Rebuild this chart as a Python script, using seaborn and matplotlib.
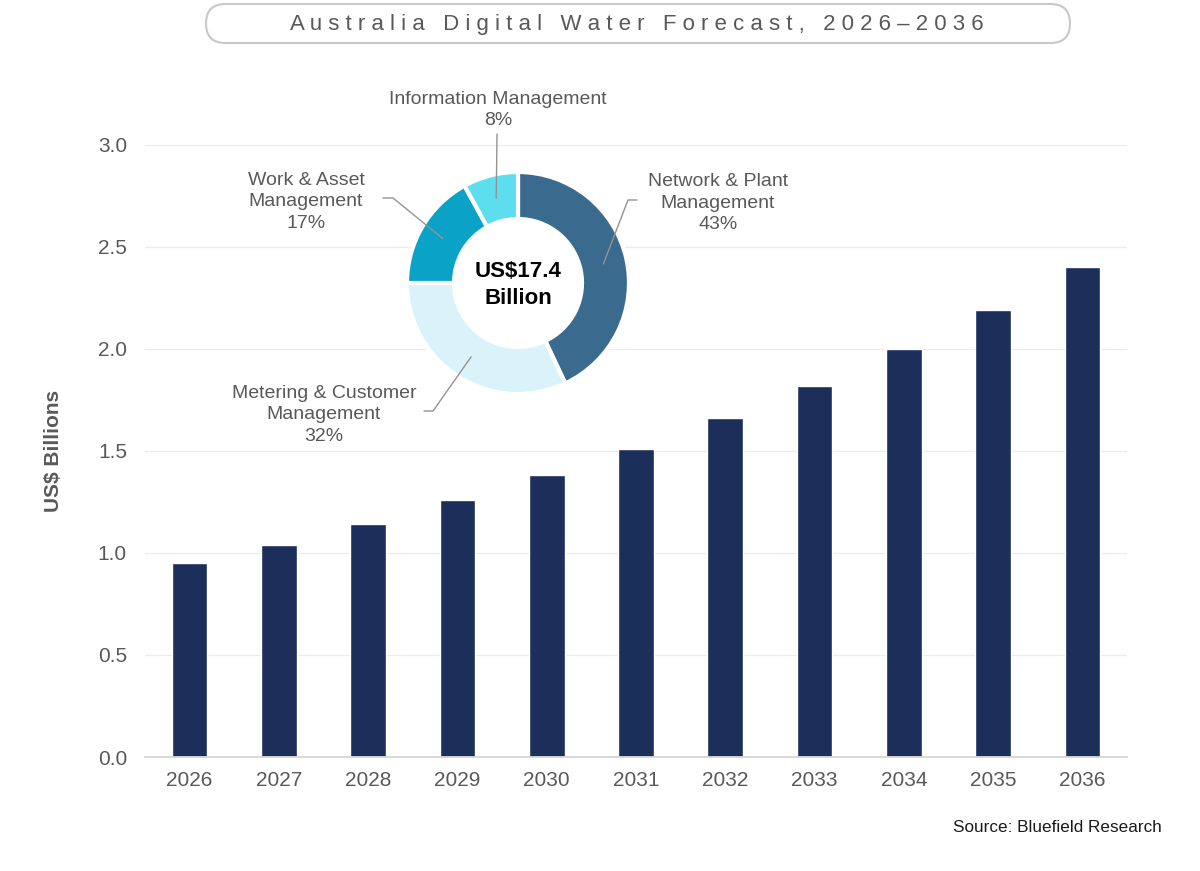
import numpy as np
import matplotlib.pyplot as plt
import pandas as pd
import seaborn as sns
from matplotlib.patches import FancyBboxPatch, Circle

# bar data (US$ billions)
years = ["2026", "2027", "2028", "2029", "2030", "2031", "2032", "2033", "2034", "2035", "2036"]
values = [0.95, 1.04, 1.14, 1.26, 1.38, 1.51, 1.66, 1.82, 2.00, 2.19, 2.40]

# donut data
segments = ["Network & Plant\nManagement", "Metering & Customer\nManagement",
            "Work & Asset\nManagement", "Information Management"]
shares = [43, 32, 17, 8]
seg_colors = ["#3B6A8F", "#DAF2F9", "#0BA2C7", "#5CDEEF"]
total_label = "US$17.4\nBillion"

title = "Australia Digital Water Forecast, 2026\u20132036"

sns.set_theme(style="white")
plt.rcParams["font.family"] = ["Liberation Sans", "DejaVu Sans"]

W, H = 1200, 871
GREY = "#595959"
fig = plt.figure(figsize=(W / 100, H / 100), dpi=100)

def py(y):
    # pixel row (from top) -> overlay y
    return H - y

# ---- bar chart
ax = fig.add_axes([145 / W, 1 - 757 / H, (1127 - 145) / W, (757 - 145) / H])
df = pd.DataFrame({"year": years, "value": values})
sns.barplot(data=df, x="year", y="value", color="#1C2F5B", width=0.4,
            saturation=1, ax=ax)
ax.set_ylim(0, 3.0)
ax.set_yticks(np.arange(0, 3.01, 0.5))
ax.set_yticklabels([f"{v:.1f}" for v in np.arange(0, 3.01, 0.5)])
ax.grid(axis="y", color="#EBEBEB", lw=0.9)
ax.set_axisbelow(True)
for s in ["left", "right", "top"]:
    ax.spines[s].set_visible(False)
ax.spines["bottom"].set_color("#D6D6D6")
ax.spines["bottom"].set_linewidth(1.3)
ax.tick_params(axis="both", length=0, labelsize=15, labelcolor=GREY)
ax.tick_params(axis="x", pad=10)
ax.tick_params(axis="y", pad=13)
ax.set_xlabel("")
ax.set_ylabel("US$ Billions", fontsize=15, fontweight="bold", color=GREY)
ax.yaxis.set_label_coords(-0.084, 0.5)

# ---- overlay in pixel coords: donut, labels, title, source
ov = fig.add_axes([0, 0, 1, 1], zorder=5)
ov.set_facecolor("none")
cx, cy, R, ring = 518, py(283), 111, 47
ov.add_patch(Circle((cx, cy), R - ring, color="white", zorder=1))
wedges, _ = ov.pie(shares, colors=seg_colors, startangle=90, counterclock=False,
                   center=(cx, cy), radius=R,
                   wedgeprops=dict(width=ring, edgecolor="white", linewidth=3))
ov.set_xlim(0, W)
ov.set_ylim(0, H)
ov.axis("off")

ov.text(cx, cy - 2, total_label, ha="center", va="center", fontsize=16,
        fontweight="bold", color="black", linespacing=1.4, zorder=6)

# label centres and leader line start/elbow (pixels from top-left)
label_pos = [(718, 203), (324, 415), (306, 202), (498, 110)]
leader = [((637, 200), (628, 200)), ((424, 411), (433, 411)),
          ((383, 198), (393, 198)), ((497, 134), (497, 134))]
r_mid = R - ring / 2
for w, name, pct, (tx, ty), ((x0, y0), (x1, y1)) in zip(wedges, segments, shares, label_pos, leader):
    ov.text(tx, py(ty), f"{name}\n{pct}%", ha="center", va="center", fontsize=14,
            color=GREY, linespacing=1.35)
    ang = np.deg2rad((w.theta1 + w.theta2) / 2)
    ex, ey = cx + r_mid * np.cos(ang), cy + r_mid * np.sin(ang)
    ov.plot([x0, x1, ex], [py(y0), py(y1), ey], color="#939393", lw=1, zorder=7)

# title pill
ov.add_patch(FancyBboxPatch((206, py(43)), 864, 39,
                            boxstyle="round,pad=0,rounding_size=19.5",
                            fc="white", ec="#C8C8C8", lw=1.5))
ov.text(637, py(25), " ".join(title), ha="center", va="center", fontsize=16, color=GREY)

ov.text(1162, py(827), "Source: Bluefield Research", ha="right", va="center",
        fontsize=12.3, color="#1A1A1A")

fig.savefig("out.png", dpi=100)
